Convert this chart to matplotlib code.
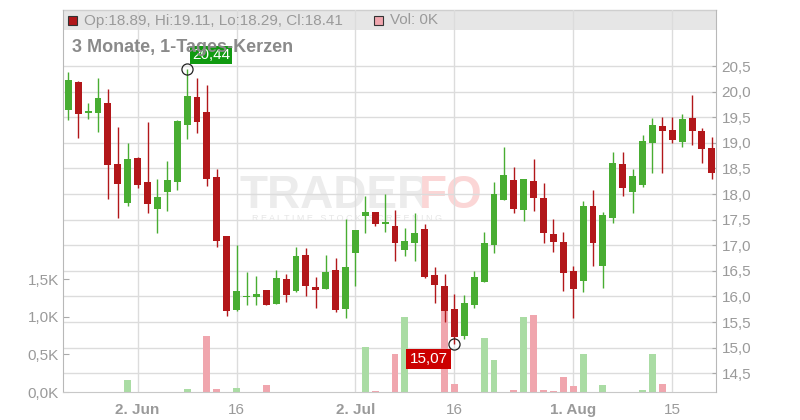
import matplotlib
matplotlib.use("Agg")
import matplotlib.pyplot as plt
from matplotlib.patches import Rectangle
from matplotlib.transforms import blended_transform_factory
import numpy as np
import pandas as pd

# ---------------- data ----------------
dates = pd.bdate_range("2025-05-22", "2025-08-21")  # trading days

opens = [19.64, 20.19, 19.58, 19.59, 19.78, 18.59, 17.83, 18.70, 18.23, 17.71,
         18.03, 18.24, 19.35, 19.89, 19.60, 18.33, 17.18, 15.74, 15.98, 15.99,
         16.13, 15.86, 16.34, 16.11, 16.81, 16.18, 16.15, 16.52, 15.76, 16.85,
         17.58, 17.65, 17.42, 17.38, 16.91, 17.05, 17.32, 16.42, 16.20, 15.75,
         15.23, 15.84, 16.29, 17.00, 17.89, 18.27, 17.69, 18.25, 17.92, 17.22,
         17.06, 16.50, 16.31, 17.77, 16.60, 17.54, 18.59, 18.03, 18.18, 19.00,
         19.33, 19.25, 19.02, 19.48, 19.23, 18.89]
highs = [20.38, 20.20, 19.78, 20.27, 20.05, 19.31, 19.00, 18.72, 19.41, 18.29,
         18.64, 19.45, 20.44, 20.27, 20.13, 18.49, 17.18, 17.00, 16.48, 16.40,
         16.13, 16.52, 16.44, 16.96, 16.94, 16.38, 16.81, 16.75, 17.51, 17.30,
         17.96, 17.65, 18.00, 17.69, 17.33, 17.62, 17.41, 16.57, 16.44, 16.04,
         16.03, 16.50, 17.26, 18.23, 18.92, 18.53, 18.29, 18.68, 18.21, 17.51,
         17.26, 16.59, 17.86, 18.08, 17.65, 18.82, 18.82, 18.49, 19.15, 19.48,
         19.50, 19.50, 19.56, 19.93, 19.29, 19.11]
lows = [19.45, 19.10, 19.47, 19.22, 17.91, 17.54, 17.77, 18.12, 17.62, 17.23,
        17.67, 18.07, 19.08, 19.20, 18.16, 16.97, 15.62, 15.72, 15.83, 15.83,
        15.83, 15.86, 15.90, 16.09, 16.01, 15.78, 16.15, 15.70, 15.57, 16.21,
        17.24, 17.38, 17.26, 16.70, 16.78, 16.70, 16.35, 15.88, 15.50, 15.07,
        15.17, 15.78, 16.29, 16.85, 17.89, 17.62, 17.48, 17.66, 17.05, 16.87,
        16.11, 15.58, 16.09, 16.60, 16.17, 17.44, 17.97, 17.62, 18.14, 18.42,
        18.42, 19.00, 18.91, 18.96, 18.61, 18.29]
closes = [20.23, 19.57, 19.60, 19.88, 18.57, 18.20, 18.68, 18.18, 17.81, 17.94,
          18.27, 19.43, 19.91, 19.41, 18.30, 17.09, 15.72, 16.11, 16.01, 16.05,
          15.83, 16.36, 16.03, 16.79, 16.21, 16.13, 16.48, 15.74, 16.57, 17.30,
          17.65, 17.42, 17.45, 17.05, 17.08, 17.24, 16.38, 16.23, 15.72, 15.21,
          15.87, 16.38, 17.04, 18.00, 18.37, 17.71, 18.29, 17.93, 17.23, 17.07,
          16.46, 16.15, 17.77, 17.05, 17.59, 18.61, 18.12, 18.35, 19.04, 19.35,
          19.24, 19.06, 19.46, 19.24, 18.87, 18.41]
volumes_k = [0, 0, 0, 0, 0, 0, 0.16, 0, 0, 0,
             0, 0, 0.044, 0, 0.75, 0.044, 0, 0.058, 0, 0,
             0.098, 0, 0, 0, 0, 0, 0, 0, 0, 0,
             0.60, 0.018, 0, 0.50, 1.00, 0, 0, 0, 1.08, 0.11,
             0, 0, 0.72, 0.42, 0, 0.03, 1.00, 1.03, 0.03, 0.018,
             0.20, 0.085, 0.50, 0, 0.098, 0, 0, 0, 0.02, 0.50,
             0.10, 0, 0, 0, 0, 0]

price_ticks = [14.5, 15.0, 15.5, 16.0, 16.5, 17.0, 17.5, 18.0, 18.5, 19.0, 19.5, 20.0, 20.5]
price_tick_labels = ["14,5", "15,0", "15,5", "16,0", "16,5", "17,0", "17,5",
                     "18,0", "18,5", "19,0", "19,5", "20,0", "20,5"]
vol_ticks = [0.0, 0.5, 1.0, 1.5]
vol_tick_labels = ["0,0K", "0,5K", "1,0K", "1,5K"]
date_ticks = ["2025-06-02", "2025-06-16", "2025-07-02", "2025-07-16", "2025-08-01", "2025-08-15"]
date_tick_labels = ["2. Jun", "16", "2. Jul", "16", "1. Aug", "15"]
date_tick_bold = [True, False, True, False, True, False]

legend_text = "Op:18.89, Hi:19.11, Lo:18.29, Cl:18.41"
vol_legend_text = "Vol: 0K"
subtitle = "3 Monate, 1-Tages-Kerzen"
max_label = "20,44"
min_label = "15,07"

# ---------------- style ----------------
GREEN = "#48ad32"
RED = "#b2171a"
VGREEN = "#aadca4"
VRED = "#f0a6ae"
GRID = "#dcdcdc"
TXT = "#9a9a9a"
plt.rcParams['font.family'] = ['Liberation Sans', 'DejaVu Sans']

W, H = 800, 420
fig = plt.figure(figsize=(W / 100, H / 100), dpi=100)
fig.patch.set_facecolor("white")

L, R, B, T = 63, 716, 392, 10
rect = [L / W, (H - B) / H, (R - L) / W, (B - T) / H]

ax_vol = fig.add_axes(rect, zorder=1)
ax_vol.patch.set_visible(False)
ax = fig.add_axes(rect, zorder=2, sharex=ax_vol)
ax.patch.set_visible(False)

x = np.arange(len(dates))
ax_vol.set_xlim(-0.535, 65.42)
ax.set_ylim(14.133, 21.594)
ax_vol.set_ylim(0, 5.093)

# legend bar background
ax_vol.add_patch(Rectangle((0, 1 - 20 / 382), 1, 20 / 382, transform=ax_vol.transAxes,
                           facecolor="#e6e6e6", edgecolor="none", zorder=0.1))
ax_vol.plot([0, 1], [1, 1], transform=ax_vol.transAxes, color="#cfcfcf", lw=1, zorder=0.2,
            clip_on=False)

# price gridlines (behind volume)
gtr = blended_transform_factory(ax_vol.transAxes, ax.transData)
for p in price_ticks:
    ax_vol.plot([0, 1], [p, p], transform=gtr, color=GRID, lw=1, zorder=0.3)

# vertical gridlines
date_list = list(dates.strftime("%Y-%m-%d"))
date_pos = [date_list.index(d) for d in date_ticks]
for xp in date_pos:
    ax_vol.axvline(xp, color=GRID, lw=1, zorder=0.3)

# volume bars
vcols = [VGREEN if c >= o else VRED for o, c in zip(opens, closes)]
ax_vol.bar(x, volumes_k, width=0.7, color=vcols, linewidth=0, zorder=1)

# candles
o = np.array(opens); c = np.array(closes); hi = np.array(highs); lo = np.array(lows)
cols = [GREEN if cc >= oo else RED for oo, cc in zip(o, c)]
ax.vlines(x, lo, hi, colors=cols, linewidth=1.0, zorder=3)
body_bottom = np.minimum(o, c)
body_h = np.maximum(np.abs(c - o), 0.035)
ax.bar(x, body_h, bottom=body_bottom, width=0.7, color=cols, linewidth=0, zorder=4)

# axes styling
for a in (ax, ax_vol):
    for s in a.spines.values():
        s.set_visible(False)
ax_vol.spines['left'].set_visible(True)
ax_vol.spines['left'].set_color("#b8b8b8")
ax_vol.spines['bottom'].set_visible(True)
ax_vol.spines['bottom'].set_color("#c8c8c8")
ax.spines['right'].set_visible(True)
ax.spines['right'].set_color("#b8b8b8")

ax.yaxis.tick_right()
ax.set_yticks(price_ticks)
ax.set_yticklabels(price_tick_labels)
ax.tick_params(axis='y', direction='in', length=3, color="#aaaaaa", labelcolor=TXT,
               labelsize=11, pad=4, right=True, left=False)
ax.tick_params(axis='x', bottom=False, labelbottom=False)

ax_vol.set_yticks(vol_ticks)
ax_vol.set_yticklabels(vol_tick_labels)
ax_vol.tick_params(axis='y', direction='in', length=4, color="#aaaaaa", labelcolor=TXT,
                   labelsize=11, pad=3)
ax_vol.set_xticks(date_pos)
ax_vol.set_xticklabels(date_tick_labels)
ax_vol.tick_params(axis='x', length=0, labelcolor=TXT, labelsize=11, pad=8)
for lab, bold in zip(ax_vol.get_xticklabels(), date_tick_bold):
    if bold:
        lab.set_fontweight('bold')

# watermark
fig.text(240 / W, 1 - 196 / H, "TRADER", fontsize=33, fontweight='bold', color="#ececec",
         ha='left', va='center', zorder=0.5)
fig.text(419 / W, 1 - 196 / H, "FO", fontsize=33, fontweight='bold', color="#fbd6d6",
         ha='left', va='center', zorder=0.5)
fig.text(252 / W, 1 - 218 / H, "R E A L T I M E   S T O C K   S C R E E N I N G", fontsize=6.5,
         color="#e6e6e6", ha='left', va='center', zorder=0.5)

# legend
fig.patches.append(Rectangle((68 / W, 1 - 25 / H), 9 / W, 9 / H, transform=fig.transFigure,
                             facecolor=RED, edgecolor="#333333", lw=0.8, zorder=5))
fig.text(84 / W, 1 - 20.5 / H, legend_text, fontsize=11, color=TXT, ha='left', va='center', zorder=5)
fig.patches.append(Rectangle((374 / W, 1 - 25 / H), 9 / W, 9 / H, transform=fig.transFigure,
                             facecolor=VRED, edgecolor="#333333", lw=0.8, zorder=5))
fig.text(390 / W, 1 - 20.5 / H, vol_legend_text, fontsize=11, color=TXT, ha='left', va='center', zorder=5)

fig.text(72 / W, 1 - 47 / H, subtitle, fontsize=13, fontweight='bold', color="#8a8a8a",
         ha='left', va='center', zorder=5)

# max / min markers
imax = int(np.argmax(hi)); imin = int(np.argmin(lo))
ax.plot([imax], [hi[imax]], marker='o', ms=8, mfc='none', mec='#222222', mew=0.9, zorder=6, clip_on=False)
ax.plot([imin], [lo[imin]], marker='o', ms=8, mfc='none', mec='#222222', mew=0.9, zorder=6, clip_on=False)
ax.annotate(max_label, (imax, hi[imax]), xytext=(3.5, 5), textcoords='offset points',
            ha='left', va='bottom', fontsize=11, color='white', zorder=7,
            bbox=dict(boxstyle='square,pad=0.12', fc='#109a10', ec='none'))
ax.annotate(min_label, (imin, lo[imin]), xytext=(-5, -6), textcoords='offset points',
            ha='right', va='top', fontsize=11, color='white', zorder=7,
            bbox=dict(boxstyle='square,pad=0.2', fc='#cc0000', ec='none'))

fig.savefig("out.png", dpi=100)
